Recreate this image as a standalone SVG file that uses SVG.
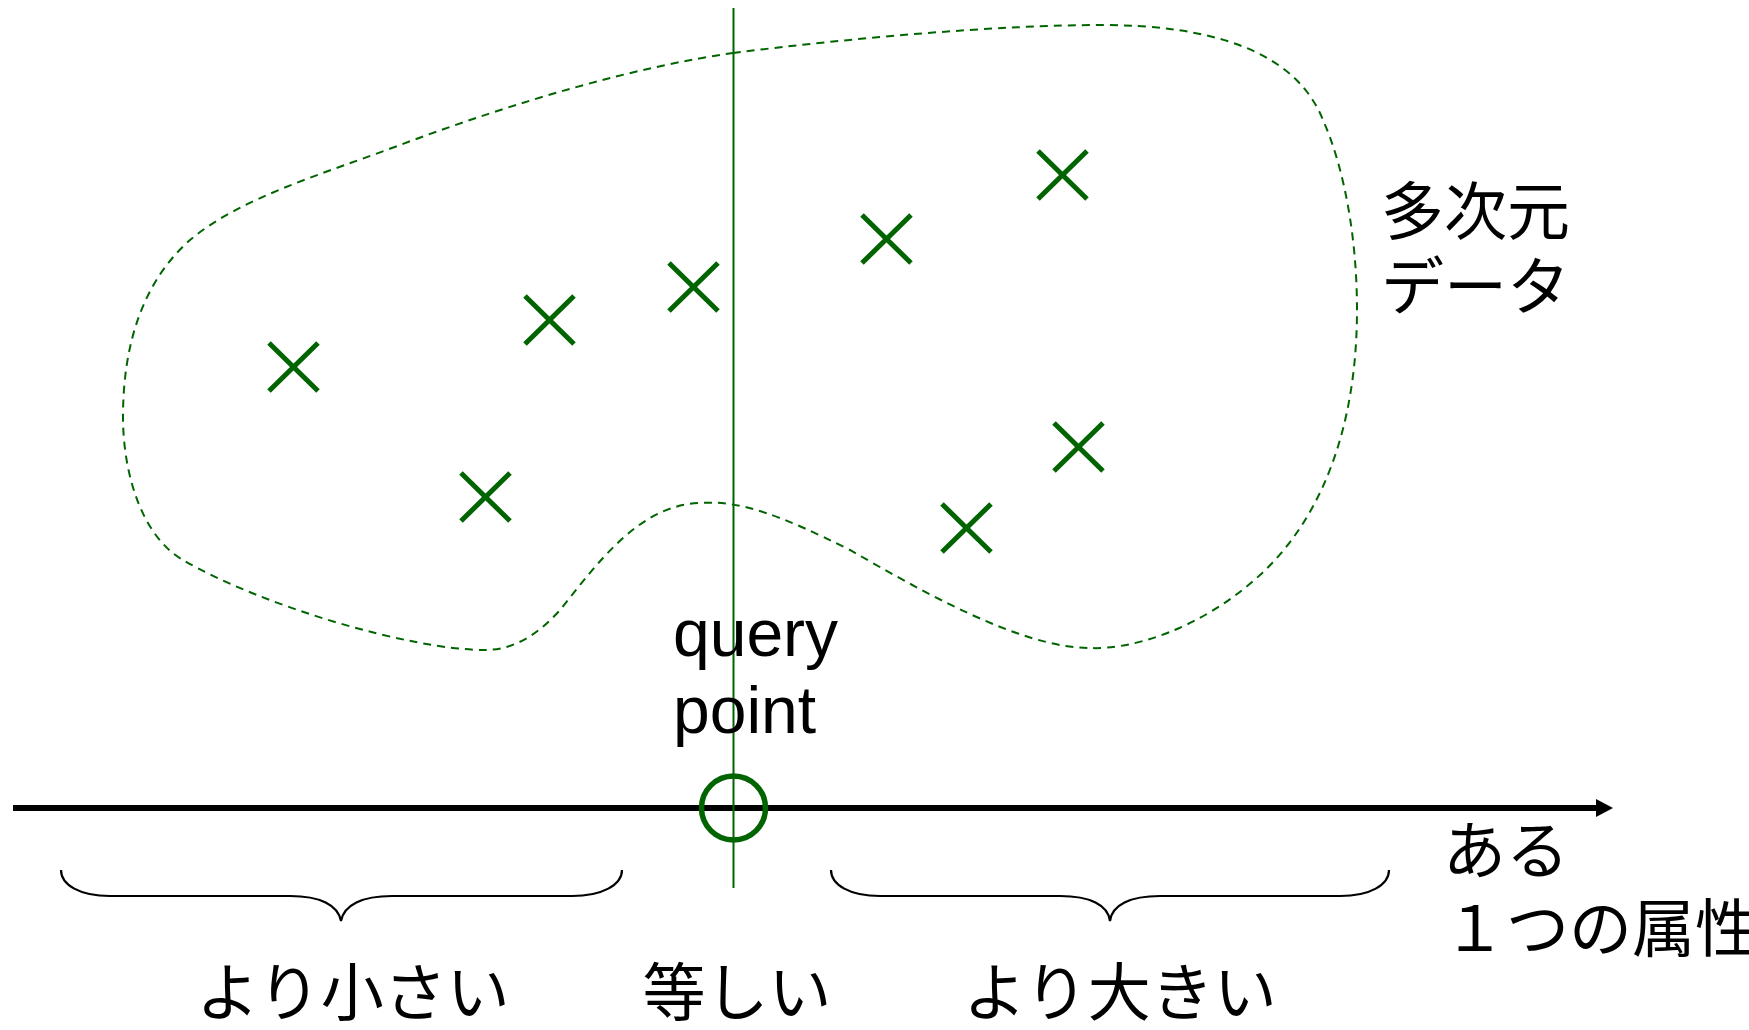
<svg xmlns="http://www.w3.org/2000/svg" width="1749" height="1030" viewBox="0 0 1749 1030">
<style>
.cross{stroke:#006400;stroke-width:5;fill:none}
.blob{stroke:#006400;stroke-width:2;fill:none;stroke-dasharray:8 6}
.brace{stroke:#000;stroke-width:2.2;fill:none}
.jp{font-family:"Noto Sans CJK JP","Noto Sans",sans-serif;font-size:63px;fill:#000}
.en{font-family:"Liberation Sans",Arial,sans-serif;font-size:66px;fill:#000}
</style>
<rect width="1749" height="1030" fill="#fff"/>
<g id="data-region">
<path class="blob" d="M 733 53 C 850 38 1000 25 1100 25 C 1210 25 1295 50 1323 120 C 1345 170 1357 240 1357 310 C 1357 430 1320 520 1260 575 C 1200 630 1130 650 1090 648 C 1020 648 920 590 850 550 C 780 515 740 500 700 503 C 640 505 600 560 560 610 C 535 638 510 650 485 650 C 410 650 260 605 183 560 C 140 535 123 470 123 417 C 123 340 145 280 190 240 C 240 198 320 175 400 145 C 520 100 640 66 733 53 Z"/>
</g>
<g id="points">
<path class="cross" d="M269 343 L318 391 M318 343 L269 391"/>
<path class="cross" d="M525 296 L574 344 M574 296 L525 344"/>
<path class="cross" d="M669 263 L718 311 M718 263 L669 311"/>
<path class="cross" d="M461 473 L510 521 M510 473 L461 521"/>
<path class="cross" d="M862 215 L911 263 M911 215 L862 263"/>
<path class="cross" d="M1038 151 L1087 199 M1087 151 L1038 199"/>
<path class="cross" d="M1054 423 L1103 471 M1103 423 L1054 471"/>
<path class="cross" d="M942 504 L991 552 M991 504 L942 552"/>
</g>
<g id="connectors">
<line x1="13" y1="808" x2="1598" y2="808" stroke="#000" stroke-width="6"/>
<polygon points="1596,799 1613,808 1596,817" fill="#000"/>
<line x1="733.5" y1="8" x2="733.5" y2="888" stroke="#006400" stroke-width="2"/>
</g>
<g id="query-point">
<circle cx="733.5" cy="808" r="32" fill="none" stroke="#006400" stroke-width="5.5"/>
<text class="en" x="673" y="656">query</text>
<text class="en" x="673" y="733">point</text>
</g>
<g id="label-data">
<text class="jp" x="1381" y="234">多次元</text>
<text class="jp" x="1381" y="309">データ</text>
</g>
<g id="label-axis">
<text class="jp" x="1443" y="873">ある</text>
<text class="jp" x="1443" y="951">１つの属性</text>
</g>
<g id="brace-less">
<path class="brace" d="M 61 870 C 61 885 80 896 110 896 L 290 896 C 320 896 338 905 341 921 C 344 905 362 896 392 896 L 572 896 C 602 896 622 885 622 870"/>
<text class="jp" x="353" y="1015" text-anchor="middle">より小さい</text>
</g>
<g id="label-equal">
<text class="jp" x="737" y="1015" text-anchor="middle">等しい</text>
</g>
<g id="brace-greater">
<path class="brace" d="M 831 870 C 831 885 850 896 880 896 L 1060 896 C 1090 896 1108 905 1110 921 C 1112 905 1130 896 1160 896 L 1340 896 C 1370 896 1389 885 1389 870"/>
<text class="jp" x="1120" y="1015" text-anchor="middle">より大きい</text>
</g>
</svg>
